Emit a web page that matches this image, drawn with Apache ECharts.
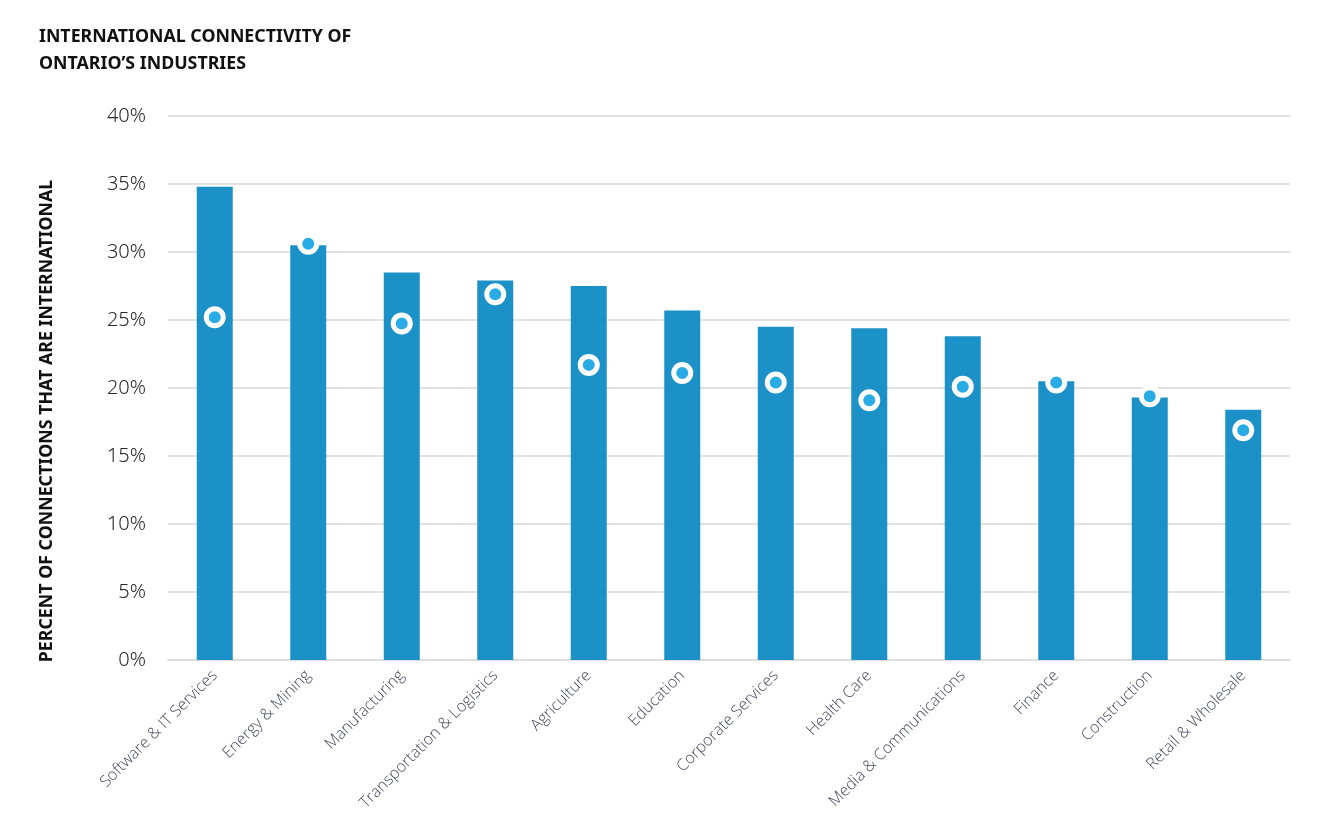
<!DOCTYPE html>
<html>
<head>
<meta charset="utf-8">
<title>International connectivity of Ontario's industries</title>
<script src="https://cdn.jsdelivr.net/npm/echarts@6/dist/echarts.min.js"></script>
<style>
    html, body { margin: 0; padding: 0; background: #fff; }
    #chart { width: 1321px; height: 836px; }
</style>
</head>
<body>
<div id="chart"></div>
<script>
    var industries = [
        'Software & IT Services', 'Energy & Mining', 'Manufacturing', 'Transportation & Logistics',
        'Agriculture', 'Education', 'Corporate Services', 'Health Care',
        'Media & Communications', 'Finance', 'Construction', 'Retail & Wholesale'
    ];
    // bar heights, percent
    var barValues = [34.8, 30.5, 28.5, 27.9, 27.5, 25.7, 24.5, 24.4, 23.8, 20.5, 19.3, 18.4];
    // dot markers, percent
    var dotValues = [25.2, 30.6, 24.75, 26.9, 21.7, 21.1, 20.4, 19.1, 20.1, 20.4, 19.4, 16.9];
    var yTicks = { min: 0, max: 40, step: 5 };

    var titleLines = ['INTERNATIONAL CONNECTIVITY OF', 'ONTARIO\u2019S INDUSTRIES'];
    var yTitle = 'PERCENT OF CONNECTIONS THAT ARE INTERNATIONAL';

    var myChart = echarts.init(document.getElementById('chart'));

    var option = {
        backgroundColor: '#fff',
        animation: false,
        grid: { left: 168, right: 31, top: 116, bottom: 176, containLabel: false },
        graphic: [
            {
                type: 'text',
                left: 39,
                top: 23,
                style: {
                    text: titleLines.join('\n'),
                    font: 'bold 17.8px "Noto Sans", sans-serif',
                    lineHeight: 27,
                    fill: '#111'
                }
            },
            {
                type: 'text',
                x: 47,
                y: 421,
                rotation: Math.PI / 2,
                style: {
                    text: yTitle,
                    font: 'bold 17.8px "Noto Sans", sans-serif',
                    fill: '#111',
                    align: 'center',
                    verticalAlign: 'middle'
                }
            }
        ],
        xAxis: {
            type: 'category',
            data: industries,
            axisLine: { show: true, lineStyle: { color: '#dedede', width: 2 } },
            axisTick: { show: false },
            axisLabel: {
                interval: 0,
                rotate: 45,
                margin: 13,
                color: '#46465e',
                fontSize: 16,
                fontWeight: 300,
                fontFamily: '"Open Sans", sans-serif'
            }
        },
        yAxis: {
            type: 'value',
            min: yTicks.min,
            max: yTicks.max,
            interval: yTicks.step,
            axisLine: { show: false },
            axisTick: { show: false },
            axisLabel: {
                formatter: '{value}%',
                margin: 22,
                color: '#2a2a2a',
                fontSize: 20,
                fontFamily: '"Noto Sans", sans-serif',
                fontWeight: 300
            },
            splitLine: { lineStyle: { color: '#e2e2e2', width: 2 } }
        },
        series: [
            {
                name: 'Connections',
                type: 'bar',
                data: barValues,
                barWidth: 36,
                itemStyle: { color: '#1c91c8' }
            },
            {
                name: 'Marker',
                type: 'scatter',
                data: dotValues,
                symbol: 'circle',
                symbolSize: 17,
                itemStyle: { color: '#29abe6', borderColor: '#fff', borderWidth: 5, opacity: 1 },
                z: 5
            }
        ]
    };

    myChart.setOption(option);
</script>
</body>
</html>
